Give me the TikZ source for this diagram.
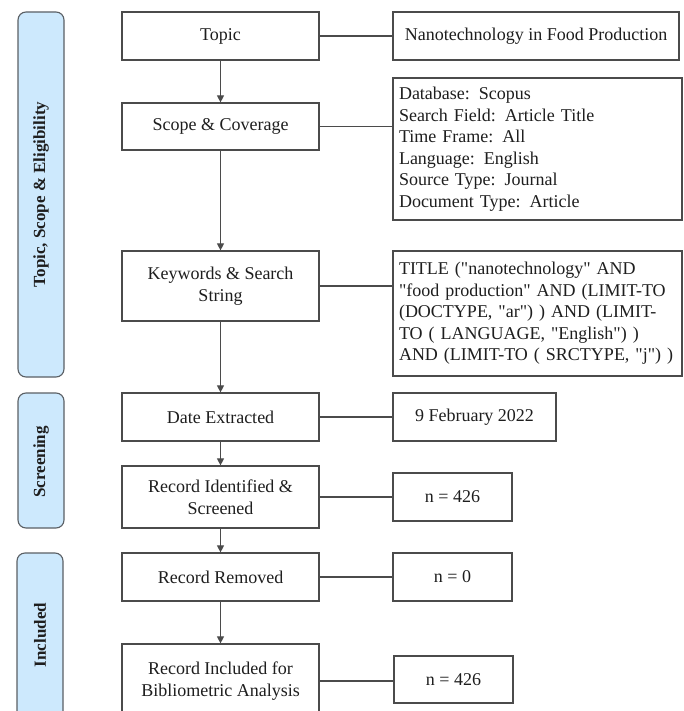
\documentclass[tikz,border=0pt]{standalone}
\usepackage{fontspec}
\setmainfont{Liberation Serif}[Ligatures=TeXOff]
\usetikzlibrary{arrows.meta}
\definecolor{panelfill}{RGB}{205,233,253}
\definecolor{panelline}{RGB}{90,95,100}
\definecolor{boxline}{RGB}{75,75,75}
\definecolor{txt}{RGB}{30,30,30}
\tikzset{
  box/.style={draw=boxline, line width=1.2pt, fill=white, text=txt, inner sep=0pt,
    font=\fontsize{18}{21.5}\selectfont, align=center},
  mainbox/.style={box, minimum width=197pt},
  textbox/.style={box, minimum width=289pt, text width=277pt, inner xsep=6pt, align=left},
  panel/.style={draw=panelline, fill=panelfill, line width=1.1pt, rounded corners=8pt},
  paneltext/.style={rotate=90, text=txt, font=\fontsize{17}{20}\selectfont\bfseries},
  link/.style={draw=boxline, line width=1.1pt},
  flow/.style={link, -{Triangle[length=7pt,width=7pt]}}
}
\begin{document}
\begin{tikzpicture}[x=1pt,y=-1pt]
\useasboundingbox (0,0) rectangle (683,711);
\clip (0,0) rectangle (683,711);
% side panels
\draw[panel] (18,12) rectangle (64,377);
\node[paneltext] (p1) at (41,194.5) {Topic, Scope \& Eligibility};
\draw[panel] (18,393) rectangle (64,528);
\node[paneltext] (p2) at (41,462) {Screening};
\draw[panel] (17,553) rectangle (63,730);
\node[paneltext] (p3) at (40,635) {Included};
% main boxes
\node[mainbox, minimum height=48pt] (topic) at (220.5,36) {Topic};
\node[mainbox, minimum height=47pt] (scope) at (220.5,126.5) {Scope \& Coverage};
\node[mainbox, minimum height=70pt] (kw) at (220.5,286) {Keywords \& Search\\String};
\node[mainbox, minimum height=48pt] (date) at (220.5,417) {Date Extracted};
\node[mainbox, minimum height=62pt] (ident) at (220.5,497) {Record Identified \&\\Screened};
\node[mainbox, minimum height=48pt] (removed) at (220.5,577) {Record Removed};
\node[mainbox, minimum height=74pt] (incl) at (220.5,681) {Record Included for\\Bibliometric Analysis};
% right boxes
\node[box, minimum width=286pt, minimum height=48pt] (r1) at (536,36) {Nanotechnology in Food Production};
\node[textbox, minimum height=142pt] (r2) at (537.5,149)
  {Database: Scopus\\Search Field: Article Title\\Time Frame: All\\Language: English\\Source Type: Journal\\Document Type: Article};
\node[textbox, minimum height=125pt] (r3) at (537.5,313.5)
  {TITLE ("nanotechnology" AND\\"food production" AND (LIMIT-TO\\(DOCTYPE, "ar") ) AND (LIMIT-\\TO ( LANGUAGE, "English") )\\AND (LIMIT-TO ( SRCTYPE, "j") )};
\node[box, minimum width=163pt, minimum height=48pt] (r4) at (474.5,417) {9 February 2022};
\node[box, minimum width=119pt, minimum height=48pt] (r5) at (452.5,497) {n = 426};
\node[box, minimum width=119pt, minimum height=48pt] (r6) at (452.5,577) {n = 0};
\node[box, minimum width=119pt, minimum height=47pt] (r7) at (453.5,679.5) {n = 426};
% vertical flow arrows
\draw[flow] (topic) -- (scope);
\draw[flow] (scope) -- (kw);
\draw[flow] (kw) -- (date);
\draw[flow] (date) -- (ident);
\draw[flow] (ident) -- (removed);
\draw[flow] (removed) -- (incl);
% horizontal links
\draw[link] (topic.east) -- (topic.east -| r1.west);
\draw[link] (scope.east) -- (scope.east -| r2.west);
\draw[link] (kw.east) -- (kw.east -| r3.west);
\draw[link] (date.east) -- (date.east -| r4.west);
\draw[link] (ident.east) -- (ident.east -| r5.west);
\draw[link] (removed.east) -- (removed.east -| r6.west);
\draw[link] (incl.east) -- (incl.east -| r7.west);
\end{tikzpicture}
\end{document}
